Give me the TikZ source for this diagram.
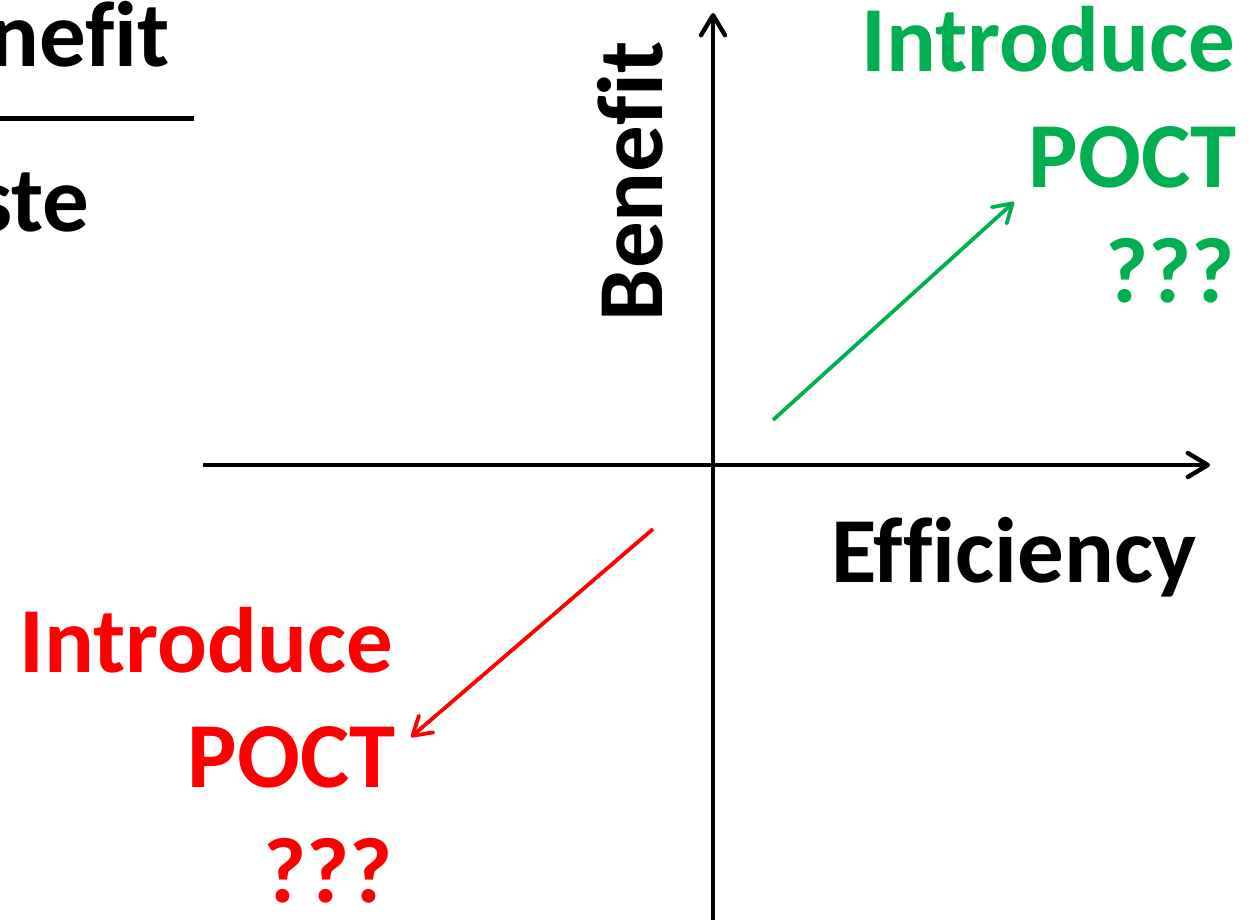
\documentclass[tikz,border=0pt]{standalone}
\usepackage{fontspec}
\setmainfont{Carlito}[Ligatures={NoCommon}]
\usetikzlibrary{arrows.meta}
\definecolor{pgreen}{HTML}{00B050}
\definecolor{pred}{HTML}{FF0000}
\begin{document}
\begin{tikzpicture}[x=1pt,y=-1pt,
  lbl/.style={inner sep=0pt,outer sep=0pt,font=\fontsize{93}{112}\selectfont\bfseries},
  axis/.style={line width=4.4pt,-{Straight Barb[length=20pt,width=24pt,round]}},
  conn/.style={line width=3.8pt,-{Straight Barb[length=18pt,width=22pt,round]}}]
\useasboundingbox (0,0) rectangle (1256,919);
\clip (0,0) rectangle (1256,919);
% axes
\coordinate (vb) at (713,925);
\coordinate (vt) at (713,13);
\coordinate (hl) at (203,465);
\coordinate (hr) at (1210,465);
\draw[axis] (vb) -- (vt);
\draw[axis] (hl) -- (hr);
% axis labels
\node[lbl,rotate=90,anchor=base west] (benefit) at (662,321) {Benefit};
\node[lbl,anchor=base west] (eff) at (831,582) {Efficiency};
% top-left fraction fragment
\node[lbl,anchor=base east] (num) at (170,66) {nefit};
\coordinate (fl) at (-5,118);
\coordinate (fr) at (194,118);
\draw[line width=5pt] (fl) -- (fr);
\node[lbl,anchor=base east] (den) at (89,231) {ste};
% green group
\node[lbl,text=pgreen,anchor=base east] (g1) at (1235,71) {Introduce};
\node[lbl,text=pgreen,anchor=base east] (g2) at (1237,187) {POCT};
\node[lbl,text=pgreen,anchor=base east] (g3) at (1235,302) {???};
\coordinate (gs) at (773,420);
\coordinate (ge) at (1014,202);
\draw[conn,draw=pgreen] (gs) -- (ge);
% red group
\node[lbl,text=pred,anchor=base east] (r1) at (393,672) {Introduce};
\node[lbl,text=pred,anchor=base east] (r2) at (396,787) {POCT};
\node[lbl,text=pred,anchor=base east] (r3) at (393,902) {???};
\coordinate (rs) at (653,529);
\coordinate (re) at (411,737);
\draw[conn,draw=pred] (rs) -- (re);
\end{tikzpicture}
\end{document}
